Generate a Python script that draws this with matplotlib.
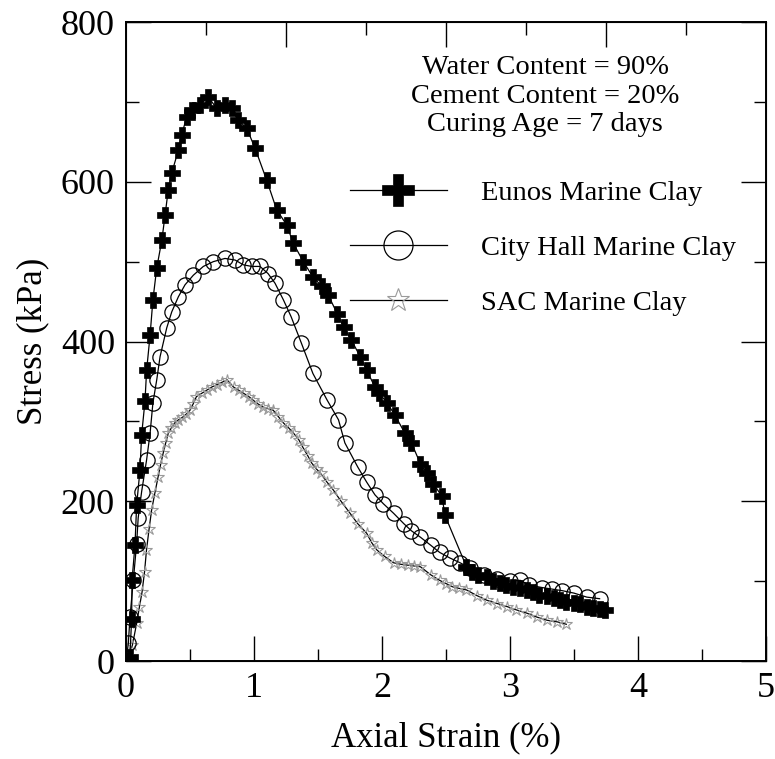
import matplotlib
matplotlib.use("Agg")
import matplotlib.pyplot as plt
from matplotlib.ticker import MultipleLocator, FixedLocator, NullFormatter

plt.rcParams['font.family'] = ['Liberation Serif', 'DejaVu Serif']

# Eunos Marine Clay (strain %, stress kPa)
eunos_x = [0.0, 0.03, 0.044, 0.047, 0.07, 0.083, 0.109, 0.122, 0.148, 0.161, 0.188, 0.21,
           0.24, 0.28, 0.305, 0.33, 0.357, 0.41, 0.435, 0.474, 0.513, 0.578, 0.643, 0.708,
           0.773, 0.826, 0.878, 0.943, 1.008, 1.099, 1.177, 1.255, 1.307, 1.385, 1.46, 1.53,
           1.58, 1.65, 1.70, 1.76, 1.83, 1.88, 1.945, 1.98, 2.04, 2.10, 2.18, 2.23, 2.30,
           2.35, 2.40, 2.47, 2.49, 2.66, 2.70, 2.75, 2.82, 2.87, 2.92, 2.97, 3.02, 3.08,
           3.13, 3.18, 3.23, 3.29, 3.34, 3.39, 3.44, 3.50, 3.55, 3.60, 3.65, 3.70, 3.74]
eunos_y = [0, 5, 53, 101, 145, 195, 239, 283, 325, 364, 408, 452,
           492, 527, 558, 590, 611, 640, 659, 681, 690, 696, 706, 692,
           696, 692, 677, 667, 642, 602, 565, 546, 523, 500, 481, 469,
           458, 435, 418, 402, 381, 364, 343, 335, 323, 308, 285, 273, 247,
           235, 222, 206, 183, 118, 112, 108, 105, 100, 98, 95, 93, 91,
           89, 86, 83, 81, 79, 76, 74, 73, 72, 68, 66, 65, 64]

# City Hall Marine Clay
city_x = [0.0, 0.018, 0.031, 0.057, 0.083, 0.095, 0.122, 0.161, 0.188, 0.21, 0.24, 0.266,
          0.318, 0.357, 0.409, 0.461, 0.526, 0.604, 0.682, 0.773, 0.852, 0.917, 0.982,
          1.047, 1.11, 1.164, 1.23, 1.29, 1.37, 1.46, 1.57, 1.66, 1.71, 1.81, 1.88, 1.945,
          2.01, 2.09, 2.17, 2.23, 2.30, 2.38, 2.45, 2.53, 2.61, 2.69, 2.80, 2.90, 3.00,
          3.08, 3.15, 3.25, 3.33, 3.41, 3.50, 3.60, 3.70]
city_y = [0, 22, 55, 101, 147, 179, 212, 252, 285, 323, 352, 381,
          417, 437, 456, 471, 483, 494, 500, 504, 502, 496, 494,
          494, 485, 473, 452, 431, 398, 360, 327, 302, 273, 243, 224, 208,
          197, 185, 172, 163, 155, 145, 136, 129, 123, 116, 108, 103, 100,
          101, 95, 92, 90, 88, 85, 80, 78]

# SAC Marine Clay
sac_x = [0.0, 0.015, 0.05, 0.083, 0.105, 0.125, 0.145, 0.16, 0.18, 0.2, 0.225, 0.25, 0.27,
         0.29, 0.31, 0.33, 0.355, 0.38, 0.41, 0.44, 0.47, 0.5, 0.525, 0.55, 0.59, 0.63,
         0.67, 0.71, 0.75, 0.79, 0.84, 0.88, 0.92, 0.96, 0.99, 1.03, 1.07, 1.11, 1.15,
         1.19, 1.23, 1.27, 1.31, 1.35, 1.38, 1.42, 1.45, 1.49, 1.52, 1.57, 1.62, 1.68,
         1.75, 1.81, 1.88, 1.92, 1.96, 2.02, 2.09, 2.15, 2.20, 2.25, 2.30, 2.38, 2.45,
         2.50, 2.55, 2.60, 2.66, 2.74, 2.82, 2.90, 2.98, 3.05, 3.13, 3.21, 3.29, 3.37,
         3.44]
sac_y = [0, 2, 20, 47, 68, 86, 112, 139, 165, 189, 210, 230, 246,
         260, 273, 285, 292, 298, 302, 305, 309, 314, 322, 331, 335, 339,
         343, 346, 349, 352, 343, 339, 335, 331, 327, 322, 318, 316, 314,
         306, 298, 292, 285, 277, 268, 257, 248, 240, 235, 224, 214, 200,
         185, 172, 160, 148, 139, 131, 123, 121, 120, 119, 118, 108, 101,
         97, 93, 91, 89, 82, 76, 72, 68, 64, 60, 55, 51, 49,
         46]

fig = plt.figure(figsize=(7.75, 7.59), dpi=100)
ax = fig.add_axes([0.1626, 0.1291, 0.8258, 0.8419])

ax.plot(sac_x, sac_y, color='black', lw=0.9, marker='*', ms=9,
        mfc='none', mec='#9a9a9a', mew=0.8, label='SAC Marine Clay', zorder=2)
ax.plot(city_x, city_y, color='black', lw=0.9, marker='o', ms=11,
        mfc='none', mec='black', mew=0.9, label='City Hall Marine Clay', zorder=3)
ax.plot(eunos_x, eunos_y, color='black', lw=0.9, marker='P', ms=12,
        mfc='black', mec='black', mew=0.5, label='Eunos Marine Clay', zorder=4)

ax.set_xlim(0, 5)
ax.set_ylim(0, 800)
ax.xaxis.set_major_locator(MultipleLocator(1))
ax.xaxis.set_minor_locator(MultipleLocator(0.5))
ax.yaxis.set_major_locator(MultipleLocator(200))
ax.yaxis.set_minor_locator(MultipleLocator(100))
ax.tick_params(which='both', direction='in', left=True, right=True, bottom=True, top=False,
               labelsize=26, width=1.0, pad=8)
ax.tick_params(which='major', length=18)
ax.tick_params(which='minor', length=9)
for s in ax.spines.values():
    s.set_linewidth(1.4)

# top axis ticks are on a different spacing in the original
top = ax.twiny()
top.set_xlim(0, 5)
top.xaxis.set_major_locator(FixedLocator([1.25, 2.5, 3.75]))
top.xaxis.set_minor_locator(FixedLocator([0.625, 1.875, 3.125, 4.375]))
top.xaxis.set_major_formatter(NullFormatter())
top.tick_params(which='both', direction='in', width=1.0)
top.tick_params(which='major', length=18)
top.tick_params(which='minor', length=9)

ax.set_xlabel('Axial Strain (%)', fontsize=25, labelpad=12)
ax.set_ylabel('Stress (kPa)', fontsize=25, labelpad=8)

ax.text(0.655, 0.884, 'Water Content = 90%\nCement Content = 20%\nCuring Age = 7 days',
        transform=ax.transAxes, ha='center', va='center', fontsize=20.5, linespacing=1.2)

h, l = ax.get_legend_handles_labels()
ax.legend(h[::-1], l[::-1], loc='upper left', bbox_to_anchor=(0.35, 0.752),
          frameon=False, fontsize=20.5, markerscale=1.9, handlelength=3.4,
          handletextpad=1.2, labelspacing=1.02, borderpad=0, borderaxespad=0)

fig.savefig('out.png', dpi=100)
